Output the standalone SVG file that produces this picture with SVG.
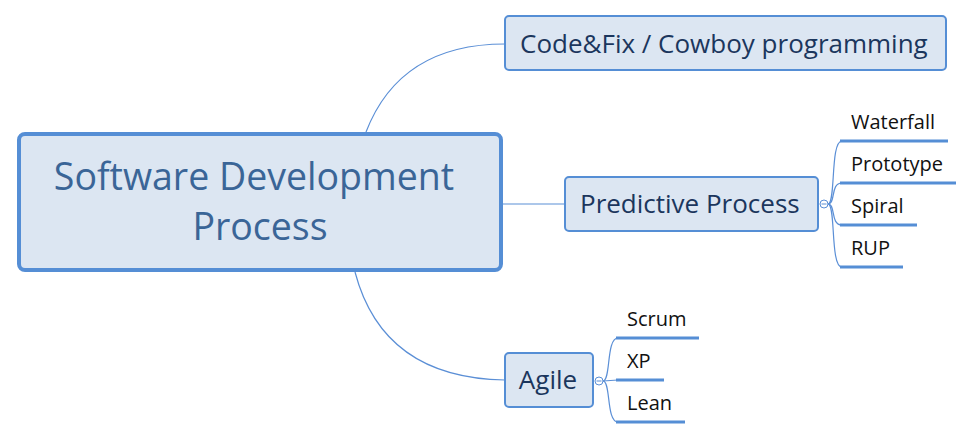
<svg xmlns="http://www.w3.org/2000/svg" width="973" height="439" viewBox="0 0 973 439">
<style>
.bg{fill:#ffffff}
.topic{fill:#dce6f2;stroke:#558ed5;stroke-width:2}
.central{fill:#dce6f2;stroke:#558ed5;stroke-width:4}
.conn{fill:none;stroke:#5b8fd6;stroke-width:1.2}
.ul{stroke:#558ed5;stroke-width:3}
.cc{fill:#ffffff;stroke:#5b8fd6;stroke-width:1}
.ct{font-family:"Open Sans","Noto Sans",sans-serif;font-size:37.5px;fill:#3a6597;text-anchor:middle}
.tt{font-family:"Open Sans","Noto Sans",sans-serif;font-size:26px;fill:#1b365d}
.st{font-family:"Open Sans","Noto Sans",sans-serif;font-size:20px;fill:#111111}
</style>
<rect class="bg" x="0" y="0" width="973" height="439"/>
<g id="connectors">
<path class="conn" d="M366,132 Q400,44 505,44"/>
<path class="conn" d="M503,204 L564,204"/>
<path class="conn" d="M355,272 Q383,378 505,380"/>
<path class="conn" d="M828,204 C836,204 830,141 842,141"/>
<path class="conn" d="M828,204 C836,204 830,183 842,183"/>
<path class="conn" d="M828,204 C836,204 830,225 842,225"/>
<path class="conn" d="M828,204 C836,204 830,267 842,267"/>
<path class="conn" d="M603,381 C611,381 606,338 618,338"/>
<path class="conn" d="M603,381 L618,380"/>
<path class="conn" d="M603,381 C611,381 606,422 618,422"/>
</g>
<g id="central">
<rect class="central" x="19" y="134" width="482" height="136" rx="6"/>
<text class="ct" x="254" y="190">Software Development</text>
<text class="ct" x="260" y="240">Process</text>
</g>
<g id="codefix">
<rect class="topic" x="505" y="16" width="441" height="54" rx="4"/>
<text class="tt" x="520" y="53">Code&amp;Fix / Cowboy programming</text>
</g>
<g id="predictive">
<rect class="topic" x="565" y="177" width="253" height="54" rx="4"/>
<text class="tt" x="580" y="213">Predictive Process</text>
<circle class="cc" cx="824" cy="204" r="4"/>
<line x1="821.5" y1="204" x2="826.5" y2="204" stroke="#5b8fd6" stroke-width="1"/>
</g>
<g id="waterfall">
<line class="ul" x1="840" y1="141" x2="948" y2="141"/>
<text class="st" x="851" y="129">Waterfall</text>
</g>
<g id="prototype">
<line class="ul" x1="840" y1="183" x2="956" y2="183"/>
<text class="st" x="851" y="171">Prototype</text>
</g>
<g id="spiral">
<line class="ul" x1="840" y1="225" x2="917" y2="225"/>
<text class="st" x="851" y="213">Spiral</text>
</g>
<g id="rup">
<line class="ul" x1="840" y1="267" x2="903" y2="267"/>
<text class="st" x="851" y="255">RUP</text>
</g>
<g id="agile">
<rect class="topic" x="505" y="353" width="88" height="54" rx="4"/>
<text class="tt" x="548" y="389" text-anchor="middle">Agile</text>
<circle class="cc" cx="599" cy="381" r="4"/>
<line x1="596.5" y1="381" x2="601.5" y2="381" stroke="#5b8fd6" stroke-width="1"/>
</g>
<g id="scrum">
<line class="ul" x1="616" y1="338" x2="699" y2="338"/>
<text class="st" x="627" y="326">Scrum</text>
</g>
<g id="xp">
<line class="ul" x1="616" y1="380" x2="664" y2="380"/>
<text class="st" x="627" y="368">XP</text>
</g>
<g id="lean">
<line class="ul" x1="616" y1="422" x2="685" y2="422"/>
<text class="st" x="627" y="410">Lean</text>
</g>
</svg>
